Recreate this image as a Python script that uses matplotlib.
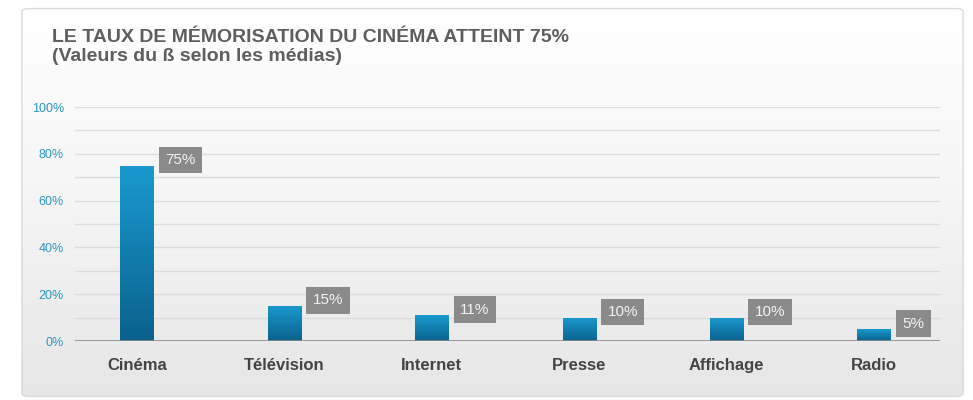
import matplotlib.pyplot as plt
import numpy as np
from matplotlib.patches import FancyBboxPatch
from matplotlib.colors import LinearSegmentedColormap

plt.rcParams['font.family'] = ['Liberation Sans', 'DejaVu Sans']

medias = ["Cinéma", "Télévision", "Internet", "Presse", "Affichage", "Radio"]
valeurs = [75, 15, 11, 10, 10, 5]
labels = ["75%", "15%", "11%", "10%", "10%", "5%"]
yticks = [0, 20, 40, 60, 80, 100]
ytick_labels = ["0%", "20%", "40%", "60%", "80%", "100%"]

fig = plt.figure(figsize=(9.73, 4), dpi=100)
fig.patch.set_facecolor('white')

# fond du panneau, degrade
bg = fig.add_axes([20/973, 2/400, 945/973, 391/400])
bg.set_xlim(0, 1)
bg.set_ylim(0, 1)
bg.axis('off')
grad = np.linspace(0, 1, 256).reshape(-1, 1)
cm_bg = LinearSegmentedColormap.from_list('bg', ['#e6e6e6', '#f5f5f5', '#ffffff'])
im = bg.imshow(grad, extent=[0, 1, 0, 1], origin='lower', cmap=cm_bg, aspect='auto')
box = FancyBboxPatch((0.002, 0.004), 0.996, 0.992, boxstyle='round,pad=0,rounding_size=0.008',
                     fc='none', ec='#dadada', lw=1, transform=bg.transAxes)
bg.add_patch(box)
im.set_clip_path(box)

fig.text(52/973, 1 - 42/400, "LE TAUX DE MÉMORISATION DU CINÉMA ATTEINT 75%",
         fontsize=14, fontweight='bold', color='#5e5e5e', va='baseline', ha='left')
fig.text(52/973, 1 - 61/400, "(Valeurs du ß selon les médias)",
         fontsize=14, fontweight='bold', color='#5e5e5e', va='baseline', ha='left')

ax = fig.add_axes([75/973, 1 - 341/400, 865/973, 234/400])
ax.patch.set_alpha(0)
x = np.arange(len(medias))
w = 0.224
for y in range(10, 101, 10):
    ax.axhline(y, color='#dcdcdc', lw=1, zorder=0)
ax.axhline(0, color='#8a8a8a', lw=1.2, zorder=3)

bars = ax.bar(x, valeurs, width=w, color='#1287b8', zorder=2)
cm_bar = LinearSegmentedColormap.from_list('bar', ['#0a618c', '#1a9ad0'])
for b in bars:
    gi = ax.imshow(grad, extent=[b.get_x(), b.get_x() + w, 0, b.get_height()],
                   origin='lower', cmap=cm_bar, aspect='auto', zorder=2.5)
    gi.set_clip_path(b)

for i, (v, t) in enumerate(zip(valeurs, labels)):
    ax.annotate(t, xy=(i + w/2, v), xytext=(8.5, 4), textcoords='offset points',
                ha='left', va='center', fontsize=11, color='#f2f2f2', zorder=5,
                bbox=dict(boxstyle='square,pad=0.42', fc='#8a8a8a', ec='none'))

ax.set_xlim(-0.42, 5.448)
ax.set_ylim(0, 100)
ax.set_yticks(yticks)
ax.set_yticklabels(ytick_labels, fontsize=9, color='#2a97bd')
ax.set_xticks(x)
ax.set_xticklabels(medias, fontsize=12, fontweight='bold', color='#444444')
ax.tick_params(axis='both', length=0)
ax.tick_params(axis='x', pad=12)
ax.tick_params(axis='y', pad=8)
for s in ax.spines.values():
    s.set_visible(False)

fig.savefig('out.png', dpi=100)
